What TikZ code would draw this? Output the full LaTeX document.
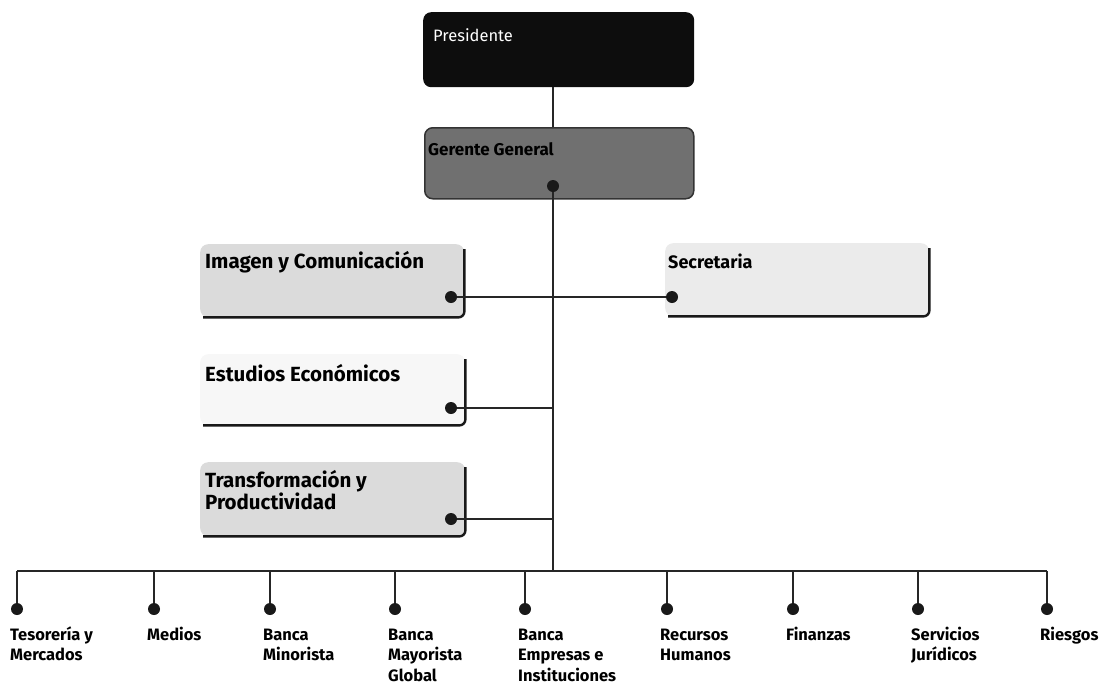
\documentclass[tikz,border=0pt]{standalone}
\usepackage{fontspec}
\setmainfont{Fira Sans}
\begin{document}
\begin{tikzpicture}[x=1pt,y=-1pt,
  conn/.style={line width=1.4pt,draw=black!85},
  edge/.style={line width=2.4pt,draw=black!90,rounded corners=6pt},
  panel/.style={rectangle,rounded corners=8pt,inner sep=0pt,anchor=north west},
  dotnode/.style={circle,fill=black!90,inner sep=0pt,minimum size=12pt},
  boxtext/.style={inner sep=0pt,anchor=west,font=\bfseries\fontsize{20.5}{22}\selectfont},
  unit/.style={inner sep=0pt,anchor=north west,align=left,font=\bfseries\fontsize{16.5}{20.5}\selectfont},
]
\useasboundingbox (0,0) rectangle (1111,691);

% top of the chart
\node[panel,fill=black!95,minimum width=271pt,minimum height=75pt] (pres) at (423,12) {};
\node[boxtext,text=white,font=\fontsize{16.5}{20}\selectfont] (prest) at (433,35) {Presidente};
\node[panel,fill=black!56,draw=black!80,line width=1.5pt,minimum width=269pt,minimum height=71pt] (ger) at (424,127) {};
\node[boxtext,font=\bfseries\fontsize{17}{20}\selectfont] (gert) at (428,149) {Gerente General};

% staff units
\node[panel,fill=black!14,minimum width=264pt,minimum height=73pt] (img) at (200,244) {};
\node[panel,fill=black!8,minimum width=264pt,minimum height=73pt] (sec) at (665,243) {};
\node[panel,fill=black!3,minimum width=265pt,minimum height=71pt] (est) at (200,354) {};
\node[panel,fill=black!14,minimum width=265pt,minimum height=74pt] (tra) at (200,462) {};

\foreach \b in {img,sec,est,tra}
  \draw[edge] ([yshift=-5pt]\b.north east) -- (\b.south east) -- ([xshift=3pt]\b.south west);

\node[boxtext] (imgt) at (205,262) {Imagen y Comunicación};
\node[boxtext,font=\bfseries\fontsize{18}{21}\selectfont] (sect) at (668,261) {Secretaria};
\node[boxtext] (estt) at (205,373) {Estudios Económicos};
\node[boxtext,anchor=north west,align=left] (trat) at (205,470) {Transformación y\\Productividad};

% connection dots
\node[dotnode] (gdot) at (553,186) {};
\node[dotnode] (imgdot) at (451,297) {};
\node[dotnode] (secdot) at (672,297) {};
\node[dotnode] (estdot) at (451,408) {};
\node[dotnode] (tradot) at (451,519) {};

% spine
\coordinate (bus) at (553,571);
\coordinate (busL) at (17,571);
\coordinate (busR) at (1047,571);
\draw[conn] (pres.south -| gdot) -- (ger.north -| gdot);
\draw[conn] (gdot) -- (bus);
\draw[conn] (imgdot) -- (secdot);
\draw[conn] (estdot) -- (estdot -| bus);
\draw[conn] (tradot) -- (tradot -| bus);
\draw[conn,line width=1.6pt] (busL) -- (busR);

% line units; the strut fixes the first baseline of every label
\foreach \n/\x/\t in {
  u1/17/{Tesorería y\\Mercados},
  u2/154/{Medios},
  u3/270/{Banca\\Minorista},
  u4/395/{Banca\\Mayorista\\Global},
  u5/525/{Banca\\Empresas e\\Instituciones},
  u6/667/{Recursos\\Humanos},
  u7/793/{Finanzas},
  u8/918/{Servicios\\Jurídicos},
  u9/1047/{Riesgos}}{
  \node[dotnode] (\n dot) at (\x,609) {};
  \draw[conn] (\x,571) -- (\n dot);
  \node[unit] (\n) at (\x-7,623) {\rule{0pt}{17pt}\t};
}
\end{tikzpicture}
\end{document}
